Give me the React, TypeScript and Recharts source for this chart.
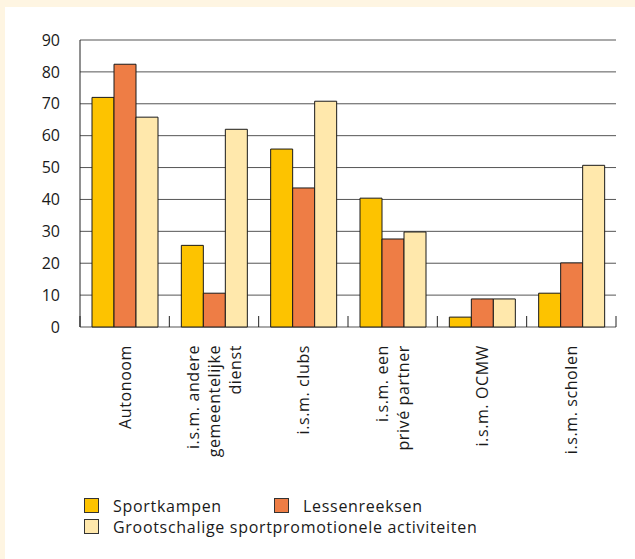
import React from 'react';
import { BarChart, Bar, XAxis, YAxis, CartesianGrid, Legend } from 'recharts';

const categories = [
  'Autonoom',
  'i.s.m. andere gemeentelijke dienst',
  'i.s.m. clubs',
  'i.s.m. een privé partner',
  'i.s.m. OCMW',
  'i.s.m. scholen',
];
const categoryLines: string[][] = [
  ['Autonoom'],
  ['i.s.m. andere', 'gemeentelijke', 'dienst'],
  ['i.s.m. clubs'],
  ['i.s.m. een', 'privé partner'],
  ['i.s.m. OCMW'],
  ['i.s.m. scholen'],
];
const sportkampen = [72, 25.6, 55.8, 40.4, 3.1, 10.6];
const lessenreeksen = [82.4, 10.6, 43.6, 27.6, 8.8, 20.1];
const grootschalig = [65.8, 62, 70.8, 29.8, 8.8, 50.7];
const yTicks = [0, 10, 20, 30, 40, 50, 60, 70, 80, 90];

const seriesNames = ['Sportkampen', 'Lessenreeksen', 'Grootschalige sportpromotionele activiteiten'];
const seriesColors = ['#FDC300', '#EE7D45', '#FFE8AC'];

const data = categories.map((c, i) => ({
  name: c,
  s0: sportkampen[i],
  s1: lessenreeksen[i],
  s2: grootschalig[i],
}));

const W = 635;
const H = 559;
const M = { top: 40, right: 19, left: 0, bottom: 0 };
const FONT = '"Open Sans", sans-serif';

const CatTick = (props: any) => {
  const { x, y, payload, index } = props;
  const band = payload && payload.offset ? payload.offset * 2 : (W - 80 - M.right) / categories.length;
  const half = band / 2;
  const idx = payload?.index ?? index ?? 0;
  const lines = categoryLines[idx] || [payload.value];
  const n = lines.length;
  const lh = 21;
  return (
    <g>
      <line x1={x - half} x2={x - half} y1={y} y2={y - 11} stroke="#222" strokeWidth={1} />
      {idx === categories.length - 1 && (
        <line x1={x + half} x2={x + half} y1={y} y2={y - 11} stroke="#222" strokeWidth={1} />
      )}
      <text
        transform={`translate(${x},${y + 18}) rotate(-90)`}
        textAnchor="end"
        fontFamily={FONT}
        fontSize={16}
        letterSpacing={0.6}
        fill="#1a1a1a"
      >
        {lines.map((l, i) => (
          <tspan key={i} x={0} y={(i - (n - 1) / 2) * lh} dominantBaseline="central">
            {l}
          </tspan>
        ))}
      </text>
    </g>
  );
};

const LegendContent = (props: any) => {
  const raw = props.payload || [];
  const payload = seriesNames
    .map((nm) => raw.find((p: any) => p.value === nm))
    .filter(Boolean);
  const item = (p: any, key: number, width?: number) => (
    <div key={key} style={{ display: 'flex', alignItems: 'center', width, height: 21, flexShrink: 0 }}>
      <span
        style={{
          display: 'inline-block',
          flexShrink: 0,
          width: 13,
          height: 13,
          background: p.color,
          border: '1px solid #333',
          marginRight: 14,
        }}
      />
      <span style={{ fontFamily: FONT, fontSize: 16, letterSpacing: 0.7, color: '#1a1a1a', whiteSpace: 'nowrap' }}>
        {p.value}
      </span>
    </div>
  );
  return (
    <div>
      <div style={{ display: 'flex' }}>
        {payload.slice(0, 2).map((p: any, i: number) => item(p, i, i === 0 ? 190 : undefined))}
      </div>
      <div style={{ display: 'flex' }}>{payload.slice(2).map((p: any, i: number) => item(p, i + 2))}</div>
    </div>
  );
};

export default function App() {
  return (
    <div style={{ position: 'absolute', left: 0, top: 0, width: W, height: H, background: '#FEF5E2' }}>
      <div style={{ position: 'absolute', left: 5, top: 7, right: 0, bottom: 0, background: '#ffffff' }} />
      <div style={{ position: 'absolute', left: 0, top: 0 }}>
        <BarChart width={W} height={H} data={data} margin={M} barCategoryGap={12} barGap={0}>
          <CartesianGrid horizontal vertical={false} stroke="#555" strokeWidth={1} />
          <XAxis
            dataKey="name"
            height={H - 327}
            axisLine={false}
            tickLine={false}
            tickSize={0}
            tickMargin={0}
            interval={0}
            tick={<CatTick />}
          />
          <YAxis
            width={80}
            domain={[0, 90]}
            ticks={yTicks}
            interval={0}
            axisLine={{ stroke: '#222', strokeWidth: 1 }}
            tickLine={false}
            tickSize={0}
            tickMargin={20}
            tick={{ fontFamily: FONT, fontSize: 16, fill: '#1a1a1a' }}
          />
          <Legend
            layout="horizontal"
            verticalAlign="middle"
            align="center"
            itemSorter={null as any}
            wrapperStyle={{ left: 84, top: 495, width: 460 }}
            content={<LegendContent />}
          />
          {['s0', 's1', 's2'].map((k, i) => (
            <Bar
              key={k}
              dataKey={k}
              name={seriesNames[i]}
              fill={seriesColors[i]}
              stroke="#1a1a1a"
              strokeWidth={1}
              isAnimationActive={false}
            />
          ))}
        </BarChart>
      </div>
    </div>
  );
}
